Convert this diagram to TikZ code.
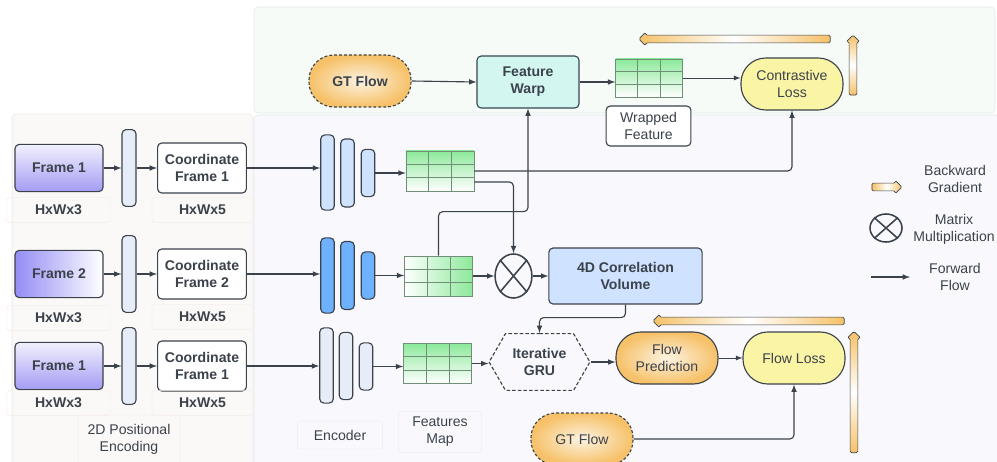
\documentclass[tikz,border=0pt]{standalone}
\usepackage{fontspec}
\setmainfont{Liberation Sans}
\usetikzlibrary{positioning,calc,shapes.geometric,shapes.arrows,shapes.symbols}

\definecolor{ink}{HTML}{3B424B}
\definecolor{toppanel}{HTML}{F6FBF8}
\definecolor{topedge}{HTML}{E2E8E4}
\definecolor{mainpanel}{HTML}{F9F9FD}
\definecolor{mainedge}{HTML}{E4E5EC}
\definecolor{leftpanel}{HTML}{FBF9F7}
\definecolor{leftedge}{HTML}{ECE8E4}
\definecolor{faintline}{HTML}{F6EFEC}
\definecolor{faintblue}{HTML}{EFF0F6}
\definecolor{framelav}{HTML}{A49CF4}
\definecolor{barblue}{HTML}{E6ECF8}
\definecolor{encpale}{HTML}{CFE3FF}
\definecolor{encdeep}{HTML}{6EB1FF}
\definecolor{gridgreen}{HTML}{8CE99A}
\definecolor{gridline}{HTML}{6F8F76}
\definecolor{corrblue}{HTML}{CFE2FF}
\definecolor{warpteal}{HTML}{D3F6F1}
\definecolor{lossyellow}{HTML}{FAF5A5}
\definecolor{flowor}{HTML}{F6C168}
\definecolor{flowlight}{HTML}{FDF3E2}

\tikzset{
  box/.style={draw=ink, line width=0.8pt, rounded corners=3pt, align=center, text=ink, font=\bfseries},
  framebox/.style={box, minimum width=2.2cm, minimum height=1.18cm},
  coordbox/.style={box, fill=white, minimum width=2.22cm, minimum height=1.25cm},
  posbar/.style={draw=ink, line width=0.8pt, rounded corners=3pt, fill=barblue, minimum width=0.35cm, minimum height=1.92cm, inner sep=0pt},
  encbar/.style={draw=ink, line width=0.8pt, rounded corners=3pt, minimum width=0.34cm, inner sep=0pt},
  featmap/.style={draw=gridline, line width=0.5pt, minimum width=1.7cm, minimum height=1cm, inner sep=0pt},
  pill/.style={draw=ink, line width=0.8pt, rounded corners=0.62cm, minimum width=2.55cm, minimum height=1.3cm, align=center, text=ink},
  gtflow/.style={pill, dash pattern=on 2pt off 1.5pt, inner color=flowlight, outer color=flowor},
  dimlbl/.style={draw=faintline, line width=0.5pt, rounded corners=2pt, align=center, text=ink},
  lbl/.style={align=center, text=ink},
  fwd/.style={draw=ink, line width=0.8pt, -latex},
  bwd/.style={single arrow, draw=ink, line width=0.5pt, inner sep=2.5pt,
    single arrow head extend=2pt, single arrow head indent=0pt, rounded corners=1pt},
  mulsign/.style={ellipse, draw=ink, line width=1.1pt, inner sep=0pt}
}

\begin{document}
\begin{tikzpicture}[x=0.025cm,y=-0.025cm]
\useasboundingbox (0,0) rectangle (997,461);
\draw[draw=topedge, fill=toppanel, rounded corners=3pt] (254,7) rectangle (995,113);
\draw[draw=mainedge, fill=mainpanel, rounded corners=3pt] (254,115) rectangle (1005,475);
\draw[draw=leftedge, fill=leftpanel, rounded corners=3pt] (12,114) rectangle (253,475);

% positional encoding rows
\node[framebox, top color=white!85!framelav, bottom color=framelav] (f1) at (59,168) {Frame 1};
\node[framebox, left color=framelav!90!blue, right color=white] (f2) at (59,274) {Frame 2};
\node[framebox, top color=white!85!framelav, bottom color=framelav] (f3) at (59,366) {Frame 1};
\foreach \r/\y in {1/168,2/274,3/366}
  \node[posbar] (p\r) at (129,\y) {};
\node[coordbox] (c1) at (202,168) {Coordinate\\Frame 1};
\node[coordbox] (c2) at (202,274) {Coordinate\\Frame 2};
\node[coordbox] (c3) at (202,366) {Coordinate\\Frame 1};
\foreach \r in {1,2,3}{
  \draw[fwd] (f\r) -- (p\r);
  \draw[fwd] (p\r) -- (c\r);
}
\node[dimlbl, font=\bfseries, minimum width=2.58cm, minimum height=0.62cm] (d1) at (58.5,210) {HxWx3};
\node[dimlbl, font=\bfseries, minimum width=2.52cm, minimum height=0.62cm] (s1) at (202.5,210) {HxWx5};
\node[dimlbl, font=\bfseries, minimum width=2.58cm, minimum height=0.62cm] (d2) at (58.5,318) {HxWx3};
\node[dimlbl, font=\bfseries, minimum width=2.52cm, minimum height=0.62cm] (s2) at (202.5,317) {HxWx5};
\node[dimlbl, font=\bfseries, minimum width=2.58cm, minimum height=0.62cm] (d3) at (58.5,403) {HxWx3};
\node[dimlbl, font=\bfseries, minimum width=2.52cm, minimum height=0.62cm] (s3) at (202.5,403) {HxWx5};
\node[dimlbl, minimum width=2.55cm, minimum height=1.2cm] (pe) at (129,439) {2D Positional\\Encoding};

% encoders
\node[encbar, fill=encpale, minimum height=1.88cm] (e11) at (327.5,172.5) {};
\node[encbar, fill=encpale, minimum height=1.7cm] (e12) at (347.5,173) {};
\node[encbar, fill=encpale, minimum height=1.18cm] (e13) at (368,173) {};
\node[encbar, fill=encdeep, minimum height=1.88cm] (e21) at (327.5,275.5) {};
\node[encbar, fill=encdeep, minimum height=1.7cm] (e22) at (347.5,275.5) {};
\node[encbar, fill=encdeep, minimum height=1.18cm] (e23) at (368,275.5) {};
\node[encbar, fill=barblue, minimum height=1.88cm] (e31) at (326.5,365.5) {};
\node[encbar, fill=barblue, minimum height=1.68cm] (e32) at (346,366) {};
\node[encbar, fill=barblue, minimum height=1.18cm] (e33) at (366,366.5) {};
\node[dimlbl, draw=faintblue, minimum width=2.12cm, minimum height=0.7cm] (enc) at (340,435) {Encoder};

% feature maps
\node[featmap, top color=gridgreen, bottom color=white] (g1) at (440,171) {};
\node[featmap, left color=white, right color=gridgreen] (g2) at (438.5,276) {};
\node[featmap, top color=gridgreen, bottom color=white] (g3) at (437.5,363.5) {};
\node[featmap, top color=gridgreen, bottom color=white, minimum width=1.67cm, minimum height=0.95cm] (gw) at (649,78) {};
\foreach \g in {g1,g2,g3,gw}
  \foreach \f in {0.333,0.667}{
    \draw[gridline, line width=0.5pt] ($(\g.north west)!\f!(\g.north east)$) -- ($(\g.south west)!\f!(\g.south east)$);
    \draw[gridline, line width=0.5pt] ($(\g.north west)!\f!(\g.south west)$) -- ($(\g.north east)!\f!(\g.south east)$);
  }
\node[dimlbl, draw=faintblue, minimum width=2.08cm, minimum height=1.02cm] (fm) at (440,432) {Features\\Map};

\draw[fwd] (c1.east) -- (c1.east -| e11.west);
\draw[fwd] (c2.east) -- (c2.east -| e21.west);
\draw[fwd] (c3.east) -- (c3.east -| e31.west);
\draw[fwd] (e13.east) -- (e13.east -| g1.west);
\draw[fwd] (e23.east) -- (e23.east -| g2.west);
\draw[fwd] (e33.east) -- (e33.east -| g3.west);

% correlation and GRU
\node[mulsign, minimum width=0.92cm, minimum height=1.1cm] (mul) at (513.5,276) {};
\draw[ink, line width=1.1pt] (mul.north west) -- (mul.south east) (mul.north east) -- (mul.south west);
\node[box, fill=corrblue, minimum width=3.83cm, minimum height=1.4cm] (corr) at (625.5,276) {4D Correlation\\Volume};
\node[signal, signal to=east and west, signal pointer angle=120, draw=ink, line width=0.8pt,
  dash pattern=on 2.5pt off 1.5pt, minimum width=2.52cm, minimum height=1.42cm, align=center,
  text=ink, font=\bfseries, inner xsep=0pt] (gru) at (539.5,362) {Iterative\\GRU};
\node[pill, inner color=flowlight, outer color=flowor] (fp) at (667,358) {Flow\\Prediction};
\node[pill, fill=lossyellow] (fl) at (794,358) {Flow Loss};
\node[gtflow] (gt2) at (582,439) {GT Flow};

\draw[fwd] (g2.east) -- (mul.west);
\draw[fwd] (mul.east) -- (corr.west);
\draw[fwd] (g3.east) -- (g3.east -| gru.west);
\draw[fwd] (gru.east) -- (gru.east -| fp.west);
\draw[fwd, line width=0.6pt] (fp.east) -- (fl.west);
\draw[fwd, rounded corners=3pt] (corr.south) -- ++(0,13) -| (gru.north);
\draw[fwd, rounded corners=3pt] (gt2.east) -| (fl.south);
\draw[fwd, rounded corners=3pt] ($(g1.east)+(0,11)$) -| (mul.north);

% contrastive branch
\node[gtflow, font=\bfseries] (gt1) at (360,81) {GT Flow};
\node[box, draw=ink!90!teal, fill=warpteal, minimum width=2.55cm, minimum height=1.3cm] (warp) at (528,82) {Feature\\Warp};
\node[box, font=\normalfont, fill=white, minimum width=2.12cm, minimum height=1cm] (wf) at (648.5,126) {Wrapped\\Feature};
\node[pill, fill=lossyellow] (ctr) at (792,84) {Contrastive\\Loss};
\draw[fwd] (gt1.east) -- (warp.west);
\draw[fwd] (warp.east) -- (warp.east -| gw.west);
\draw[fwd, line width=0.6pt] (gw.east) -- (gw.east -| ctr.west);
\draw[fwd, rounded corners=3pt] (g1.east) -| (ctr.south);
\draw[fwd, rounded corners=3pt] (g2.north) -- ++(0,-44) -| (warp.south);

% backward gradients
\node[bwd, shape border rotate=180, minimum height=4.78cm, left color=flowor, right color=flowor, middle color=white] (bg1) at (736.5,39) {};
\node[bwd, shape border rotate=90, minimum height=1.5cm, top color=flowor, bottom color=flowor, middle color=white] (bg2) at (853,67) {};
\node[bwd, shape border rotate=180, minimum height=4.78cm, left color=flowor, right color=flowor, middle color=white] (bg3) at (750.5,321) {};
\node[bwd, shape border rotate=90, minimum height=3.03cm, top color=flowor, bottom color=flowor, middle color=white] (bg4) at (854,394) {};

% legend
\node[bwd, minimum height=0.75cm, left color=flowor, right color=flowor, middle color=white] (lg1) at (885,187) {};
\node[lbl] (lt1) at (955,179) {Backward\\Gradient};
\node[mulsign, minimum width=0.8cm, minimum height=0.7cm] (lg2) at (886,228) {};
\draw[ink, line width=1.1pt] (lg2.north west) -- (lg2.south east) (lg2.north east) -- (lg2.south west);
\node[lbl] (lt2) at (954,229) {Matrix\\Multiplication};
\coordinate (lg3a) at (871,277);
\coordinate (lg3b) at (910,277);
\draw[fwd] (lg3a) -- (lg3b);
\node[lbl] (lt3) at (955,277) {Forward\\Flow};
\end{tikzpicture}
\end{document}
